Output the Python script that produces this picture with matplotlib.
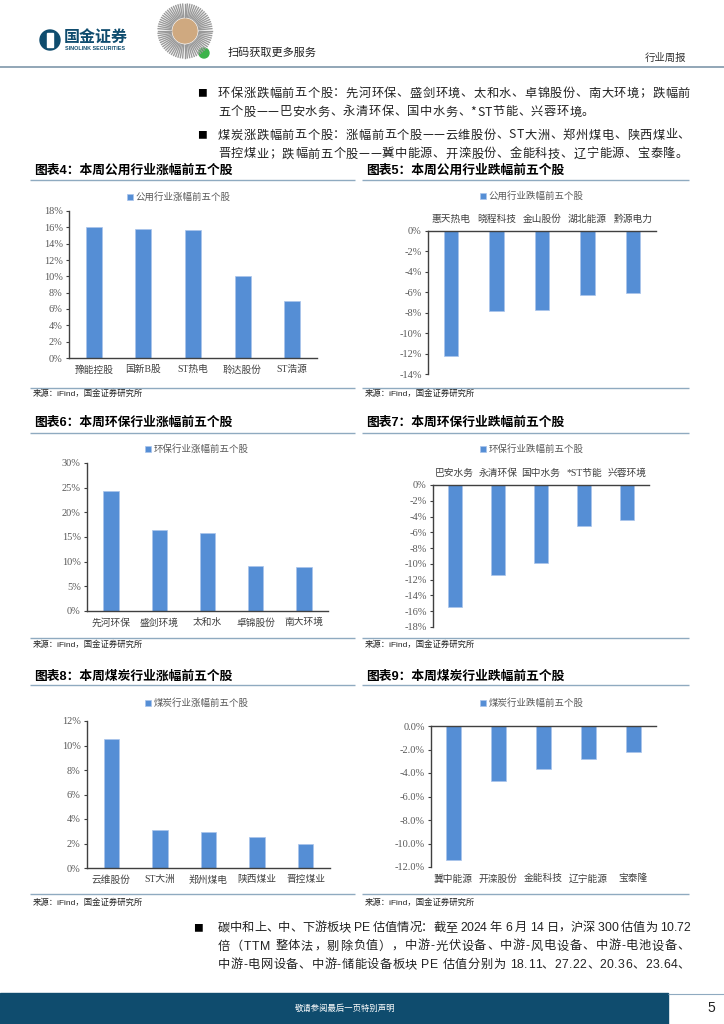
import numpy as np
import matplotlib
matplotlib.use('Agg')
import matplotlib.pyplot as plt
from matplotlib.patches import Rectangle, Circle
from matplotlib.ticker import MultipleLocator, FuncFormatter
from matplotlib.font_manager import FontProperties

# ---- data ----
util_up_names = ['豫能控股', '国新B股', 'ST热电', '聆达股份', 'ST浩源']
util_up_vals = [16.0, 15.8, 15.7, 10.1, 7.0]
util_down_names = ['惠天热电', '晓程科技', '金山股份', '湖北能源', '黔源电力']
util_down_vals = [-12.2, -7.8, -7.7, -6.3, -6.1]
env_up_names = ['先河环保', '盛剑环境', '太和水', '卓锦股份', '南大环境']
env_up_vals = [24.4, 16.4, 15.8, 9.2, 9.0]
env_down_names = ['巴安水务', '永清环保', '国中水务', '*ST节能', '兴蓉环境']
env_down_vals = [-15.5, -11.4, -9.9, -5.2, -4.4]
coal_up_names = ['云维股份', 'ST大洲', '郑州煤电', '陕西煤业', '晋控煤业']
coal_up_vals = [10.5, 3.1, 2.9, 2.5, 2.0]
coal_down_names = ['冀中能源', '开滦股份', '金能科技', '辽宁能源', '宝泰隆']
coal_down_vals = [-11.4, -4.7, -3.7, -2.8, -2.2]

titles = ['图表4：本周公用行业涨幅前五个股', '图表5：本周公用行业跌幅前五个股',
          '图表6：本周环保行业涨幅前五个股', '图表7：本周环保行业跌幅前五个股',
          '图表8：本周煤炭行业涨幅前五个股', '图表9：本周煤炭行业跌幅前五个股']
legends = ['公用行业涨幅前五个股', '公用行业跌幅前五个股',
           '环保行业涨幅前五个股', '环保行业跌幅前五个股',
           '煤炭行业涨幅前五个股', '煤炭行业跌幅前五个股']
source = '来源：iFind，国金证券研究所'

para_top = ['环保涨跌幅前五个股：先河环保、盛剑环境、太和水、卓锦股份、南大环境；跌幅前',
            '五个股——巴安水务、永清环保、国中水务、*ST节能、兴蓉环境。',
            '煤炭涨跌幅前五个股：涨幅前五个股——云维股份、ST大洲、郑州煤电、陕西煤业、',
            '晋控煤业；跌幅前五个股——冀中能源、开滦股份、金能科技、辽宁能源、宝泰隆。']
para_bottom = ['碳中和上、中、下游板块 PE 估值情况：截至 2024 年 6 月 14 日，沪深 300 估值为 10.72',
               '倍（TTM 整体法，剔除负值），中游-光伏设备、中游-风电设备、中游-电池设备、',
               '中游-电网设备、中游-储能设备板块 PE 估值分别为 18.11、27.22、20.36、23.64、']

W, H = 724, 1024
BAR = '#558ED5'
RULE = '#8FAAC0'
CJK = ['Noto Sans CJK SC', 'DejaVu Sans']
SANS = ['Liberation Sans', 'Noto Sans CJK SC']
SERIF = ['Liberation Serif', 'Noto Sans CJK SC']

fig = plt.figure(figsize=(W / 100, H / 100), dpi=100)
renderer = fig.canvas.get_renderer()

# page canvas in pixel coordinates
bg = fig.add_axes([0, 0, 1, 1])
bg.set_xlim(0, W)
bg.set_ylim(H, 0)
bg.axis('off')


def px_axes(l, t, r, b):
    return fig.add_axes([l / W, 1 - b / H, (r - l) / W, (b - t) / H])


def rule(x0, x1, y, color=RULE, lw=1.0):
    bg.plot([x0, x1], [y, y], color=color, lw=lw, solid_capstyle='butt')


def text_width(s, fp):
    t = bg.text(0, 0, s, fontproperties=fp)
    w = t.get_window_extent(renderer).width
    t.remove()
    return w


def spaced_line(x0, y, s, fp, x1=None, extra=0.0, color='#222222', ha='left'):
    # place glyph by glyph so the line can be stretched like justified text
    base = text_width('|', fp)
    pw = [text_width(s[:k] + '|', fp) - base for k in range(len(s) + 1)]
    if x1 is not None:
        extra = (x1 - x0 - pw[-1]) / (len(s) - 1)
    if ha == 'center':
        x0 = x0 - (pw[-1] + extra * (len(s) - 1)) / 2
    for k, ch in enumerate(s):
        if ch != ' ':
            bg.text(x0 + pw[k] + k * extra, y, ch, fontproperties=fp, color=color, va='center')
    return extra


# ---- header ----
bg.add_patch(Circle((50, 40), 10, color='#0F4C6E'))
bg.add_patch(Rectangle((47, 33), 6, 14, color='white'))
bg.text(64, 37, '国金证券', fontsize=11.5, fontweight='bold', color='#0F4C6E',
        family=CJK, va='center')
bg.text(65, 48, 'SINOLINK SECURITIES', fontsize=3.9, fontweight='bold', color='#0F4C6E',
        family=SANS, va='center')
for a in np.linspace(0, 2 * np.pi, 72, endpoint=False):
    bg.plot([185 + 14 * np.cos(a), 185 + 27 * np.cos(a)],
            [31 + 14 * np.sin(a), 31 + 27 * np.sin(a)], color='#9A9A9A', lw=1.0)
bg.add_patch(Circle((185, 31), 12, color='#CFA980'))
bg.add_patch(Circle((204, 53), 5, color='#3CB34A'))
bg.text(228, 53, '扫码获取更多服务', fontsize=8, color='#222222', family=CJK, va='center')
bg.text(686, 58, '行业周报', fontsize=7.5, color='#333333', family=CJK, va='center', ha='right')
rule(0, W, 67, color='#7F97AA', lw=1.2)

# ---- top paragraph ----
body_fp = FontProperties(family=CJK, size=8.8)
bg.text(197, 93, '■', fontsize=7, color='black', family=CJK, va='center')
ex = spaced_line(218, 93, para_top[0], body_fp, x1=690)
spaced_line(218, 112, para_top[1], body_fp, extra=ex)
bg.text(197, 135, '■', fontsize=7, color='black', family=CJK, va='center')
spaced_line(218, 135, para_top[2], body_fp, x1=690)
spaced_line(218, 154, para_top[3], body_fp, x1=688)

# ---- charts ----
charts = [
    ((69, 211, 317, 358), util_up_names, util_up_vals, (0, 18), 2, '{:.0f}%', (179, 197), 'bottom'),
    ((428, 231, 656, 374), util_down_names, util_down_vals, (-14, 0), 2, '{:.0f}%', (532, 196), 'top'),
    ((87, 463, 328, 611), env_up_names, env_up_vals, (0, 30), 5, '{:.0f}%', (197, 449), 'bottom'),
    ((433, 485, 649, 627), env_down_names, env_down_vals, (-18, 0), 2, '{:.0f}%', (532, 449), 'top'),
    ((87, 721, 330, 868), coal_up_names, coal_up_vals, (0, 12), 2, '{:.0f}%', (197, 703), 'bottom'),
    ((431, 726, 656, 867), coal_down_names, coal_down_vals, (-12, 0), 2, '{:.1f}%', (532, 703), 'bottom'),
]

for i, (box, names, vals, ylim, step, fmt, leg_xy, lab_side) in enumerate(charts):
    ax = px_axes(*box)
    ax.set_facecolor('none')
    x = np.arange(len(names))
    ax.bar(x, vals, width=0.32, color=BAR, edgecolor='#A9C4EB', linewidth=0.5,
           label=legends[i], zorder=2)
    ax.set_xlim(-0.5, len(names) - 0.5)
    ax.set_ylim(*ylim)
    ax.yaxis.set_major_locator(MultipleLocator(step))
    ax.yaxis.set_major_formatter(FuncFormatter(
        lambda v, p, f=fmt: f.format(v if abs(v) > 1e-9 else 0.0)))
    ax.set_xticks(x)
    ax.set_xticklabels(names, fontproperties=FontProperties(family=SERIF, size=7),
                       color='#404040')
    for lab in ax.get_yticklabels():
        lab.set_fontproperties(FontProperties(family=SERIF, size=7.5))
        lab.set_color('#595959')
    negative = ylim[1] == 0
    ax.spines['right'].set_visible(False)
    ax.spines['top'].set_visible(negative)
    ax.spines['bottom'].set_visible(not negative)
    for side in ['left', 'top', 'bottom']:
        ax.spines[side].set_color('#404040')
        ax.spines[side].set_linewidth(1.0)
    ax.tick_params(axis='y', direction='out', length=2.5, width=0.8, color='#404040', pad=2)
    if lab_side == 'top':
        ax.tick_params(axis='x', bottom=False, labelbottom=False, top=False, labeltop=True,
                       length=0, pad=5)
    else:
        ax.tick_params(axis='x', bottom=False, labelbottom=True, top=False, length=0, pad=5)
    ax.legend(loc='center', bbox_to_anchor=(leg_xy[0] / W, 1 - leg_xy[1] / H),
              bbox_transform=fig.transFigure, frameon=False, handlelength=0.6,
              handleheight=0.6, handletextpad=0.3, labelcolor='#595959',
              prop=FontProperties(family=CJK, size=6.8))

# titles, rules and sources
for col, x0, x1 in [(0, 30, 355), (1, 362, 689)]:
    for row, (ty, ly, sl, sy) in enumerate([(171, 180, 388, 394), (423, 433, 638, 645),
                                            (677, 685, 894, 903)]):
        k = row * 2 + col
        bg.text(x0 + 4, ty, titles[k], fontsize=9.2, fontweight='bold', color='black',
                family=SANS, va='center')
        rule(x0, x1, ly)
        rule(x0, x1, sl)
        bg.text(x0 + 3, sy, source, fontsize=6, color='#222222', family=SANS, va='center')

# ---- bottom paragraph ----
bottom_fp = FontProperties(family=SANS, size=8.8)
bg.text(193, 928, '■', fontsize=7, color='black', family=CJK, va='center')
for k, s in enumerate(para_bottom):
    spaced_line(218, 928 + 18.5 * k, s, bottom_fp, x1=690)

# ---- footer ----
bg.add_patch(Rectangle((0, 993), 668, 31, color='#0F4C6E'))
rule(668, W, 993.5, color='#8FAAC0', lw=0.8)
bg.text(345, 1008, '敬请参阅最后一页特别声明', fontsize=6, color='white', family=CJK,
        va='center', ha='center')
bg.text(711, 1008, '5', fontsize=10, color='#222222', family=SANS, va='center', ha='center')

fig.savefig('out.png', dpi=100)
